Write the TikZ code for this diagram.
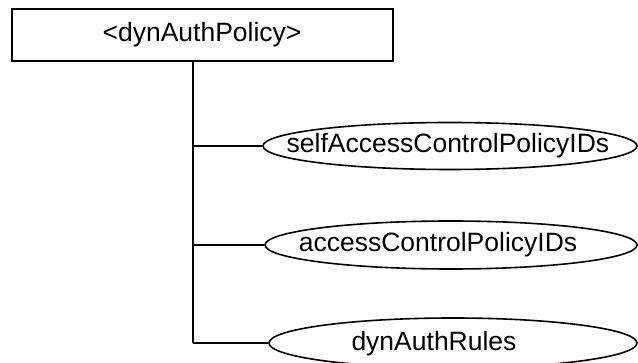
\documentclass[tikz,border=0pt]{standalone}
\usepackage{fontspec}
\setmainfont{Liberation Sans}
\usetikzlibrary{shapes.geometric}
\begin{document}
\begin{tikzpicture}[x=1pt,y=-1pt,
  every node/.style={font=\fontsize{26.5}{30}\selectfont},
  rootbox/.style={draw,line width=1.6pt,minimum width=381pt,minimum height=52pt,inner sep=0pt},
  attr/.style={draw,ellipse,line width=1.6pt,inner sep=0pt},
  wire/.style={line width=1.6pt}]
\useasboundingbox (0,0) rectangle (638,363);
\node[rootbox] (box) at (202.5,35) {};
\node (boxt) at (202,35) {<dynAuthPolicy>};
\node[attr,minimum width=374pt,minimum height=47pt] (e1) at (450,146) {};
\node (t1) at (448,146) {selfAccessControlPolicyIDs};
\node[attr,minimum width=372pt,minimum height=48pt] (e2) at (451,245) {};
\node (t2) at (438,245) {accessControlPolicyIDs};
\node[attr,minimum width=368pt,minimum height=50pt] (e3) at (453,343) {};
\node (t3) at (434,344) {dynAuthRules};
\coordinate (j1) at (193,146);
\coordinate (j2) at (193,245);
\coordinate (j3) at (193,343);
\draw[wire] (box.south -| j1) -- (j3);
\draw[wire] (j1) -- (e1.west);
\draw[wire] (j2) -- (e2.west);
\draw[wire] (j3) -- (e3.west);
\end{tikzpicture}
\end{document}
